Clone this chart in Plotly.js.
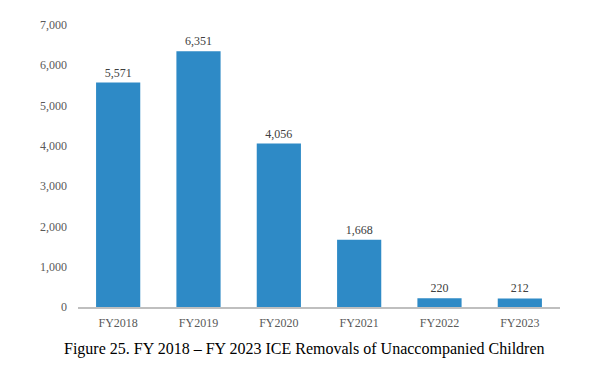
<!DOCTYPE html>
<html>
<head>
<meta charset="utf-8">
<script src="https://cdn.plot.ly/plotly-3.0.1.min.js"></script>
<style>html,body{margin:0;padding:0;background:#fff;}</style>
</head>
<body>
<div id="chart" style="width:599px;height:385px;"></div>
<script>
const categories = ["FY2018", "FY2019", "FY2020", "FY2021", "FY2022", "FY2023"];
const removals = [5571, 6351, 4056, 1668, 220, 212];
const yTickVals = [0, 1000, 2000, 3000, 4000, 5000, 6000, 7000];
const yTickText = ["0", "1,000", "2,000", "3,000", "4,000", "5,000", "6,000", "7,000"];
const captionText = "Figure 25. FY 2018 – FY 2023 ICE Removals of Unaccompanied Children";

const font = "Liberation Serif, Times New Roman, serif";

Plotly.newPlot("chart", [{
  type: "bar",
  x: categories,
  y: removals,
  marker: {color: "#2E8AC6"},
  text: removals.map(v => v.toLocaleString("en-US")),
  textposition: "outside",
  textfont: {family: font, size: 12, color: "#404040"},
  cliponaxis: false,
  hoverinfo: "x+y"
}], {
  width: 599, height: 385,
  margin: {l: 78, r: 39, t: 25, b: 78},
  paper_bgcolor: "#fff", plot_bgcolor: "#fff",
  bargap: 0.45,
  showlegend: false,
  font: {family: font, size: 12, color: "#595959"},
  xaxis: {
    showline: true, linecolor: "#BFBFBF", linewidth: 1.5,
    ticks: "", ticklabelstandoff: 4,
    tickfont: {family: font, size: 12, color: "#595959"},
    showgrid: false, zeroline: false
  },
  yaxis: {
    range: [0, 7000], tickvals: yTickVals, ticktext: yTickText,
    showgrid: false, zeroline: false, showline: false,
    ticks: "", ticklabelstandoff: 10,
    tickfont: {family: font, size: 12, color: "#595959"}
  },
  annotations: [{
    text: captionText, xref: "paper", yref: "paper",
    x: 0.469, y: -0.149, xanchor: "center", yanchor: "middle",
    showarrow: false,
    font: {family: font, size: 16, color: "#000"}
  }]
}, {displayModeBar: false, staticPlot: true});
</script>
</body>
</html>
